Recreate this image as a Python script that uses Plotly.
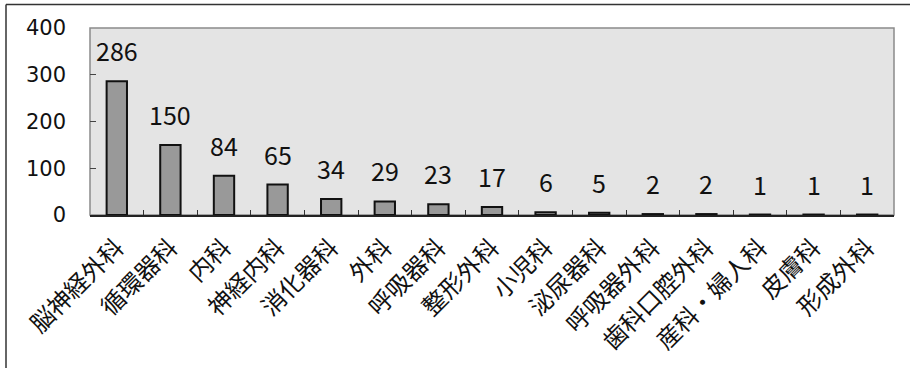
import plotly.graph_objects as go

departments = ["脳神経外科", "循環器科", "内科", "神経内科", "消化器科", "外科", "呼吸器科",
               "整形外科", "小児科", "泌尿器科", "呼吸器外科", "歯科口腔外科", "産科・婦人科",
               "皮膚科", "形成外科"]
counts = [286, 150, 84, 65, 34, 29, 23, 17, 6, 5, 2, 2, 1, 1, 1]
y_ticks = [0, 100, 200, 300, 400]

W, H = 910, 368
L, R, T, B = 90, 16, 28, 153

fig = go.Figure()
fig.add_trace(go.Bar(
    x=departments, y=counts, width=0.38,
    marker=dict(color="#999999", line=dict(color="#111111", width=2)),
    hoverinfo="x+y",
))

# value labels above each bar
for d, v in zip(departments, counts):
    fig.add_annotation(x=d, y=v, text=str(v), showarrow=False, yanchor="bottom",
                       yshift=11, font=dict(family="Noto Sans CJK JP", size=25, color="#111"))

pw, ph = W - L - R, H - T - B
def px_x(p): return (p - L) / pw
def px_y(p): return (H - B - p) / ph

# outer frame (top and left edges)
fig.add_shape(type="line", xref="paper", yref="paper", x0=px_x(6), x1=px_x(910),
              y0=px_y(4.5), y1=px_y(4.5), line=dict(color="#333", width=1.5))
fig.add_shape(type="line", xref="paper", yref="paper", x0=px_x(6), x1=px_x(6),
              y0=px_y(4.5), y1=px_y(368), line=dict(color="#333", width=1.5))
# plot area frame
fig.add_shape(type="rect", xref="paper", yref="paper", x0=0, x1=1, y0=0, y1=1,
              line=dict(color="#8a8a8a", width=1.5), layer="below")

fig.update_layout(
    width=W, height=H, margin=dict(l=L, r=R, t=T, b=B),
    paper_bgcolor="white", plot_bgcolor="#e4e4e4", showlegend=False,
    xaxis=dict(tickangle=-45, ticks="inside", tickson="boundaries", ticklen=5,
               tickcolor="#333", tickwidth=1.2, showline=True, linecolor="#222", linewidth=2,
               ticklabelstandoff=7,
               tickfont=dict(family="Noto Sans CJK JP", size=24, color="#111"),
               showgrid=False),
    yaxis=dict(range=[0, 400], tickvals=y_ticks, ticks="inside", ticklen=6, tickcolor="#444",
               showgrid=False, zeroline=False, showline=False, ticklabelstandoff=23,
               tickfont=dict(family="DejaVu Sans", size=21, color="#111")),
)

fig.write_html("out.html")
